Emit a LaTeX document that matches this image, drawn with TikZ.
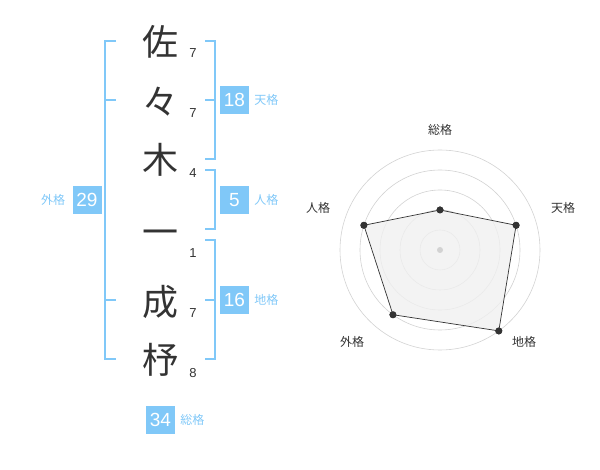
\documentclass[tikz,border=0pt]{standalone}
\usepackage{fontspec}
\setmainfont{Liberation Sans}
\newfontfamily\cjk{Noto Sans CJK JP}
\usepackage{tikz}
\usetikzlibrary{positioning,calc}
\definecolor{kaku}{HTML}{80C8F8}
\definecolor{ink}{HTML}{333333}
\definecolor{ring}{HTML}{D2D2D2}
\definecolor{area}{HTML}{F0F0F0}

\begin{document}
\begin{tikzpicture}[x=1pt,y=-1pt,
  moji/.style={text=ink,inner sep=0pt,font=\cjk\fontsize{36}{36}\selectfont},
  kakusu/.style={text=ink,inner sep=0pt,font=\fontsize{13}{13}\selectfont},
  kakubox/.style={rectangle,fill=kaku,text=white,minimum width=29pt,minimum height=28pt,inner sep=0pt,font=\fontsize{19}{19}\selectfont},
  kakuname/.style={text=kaku,inner sep=0pt,font=\cjk\fontsize{12}{12}\selectfont},
  kakko/.style={draw=kaku,line width=2pt},
  ringline/.style={draw=ring,line width=0.6pt},
  ten/.style={circle,fill=ink,minimum size=7pt,inner sep=0pt},
  axisname/.style={text=ink,inner sep=0pt,font=\cjk\fontsize{12}{12}\selectfont}]
  \useasboundingbox (0,0) rectangle (600,470);

  % name and strokes
  \node[moji] (1) at (160,42) {佐};
  \node[moji] (2) at (160,102) {々};
  \node[moji] (3) at (160,160) {木};
  \node[moji] (4) at (160,238) {一};
  \node[moji] (5) at (160,302) {成};
  \node[moji] (6) at (160,360) {杼};
  \node[kakusu] (7) at (193,53) {7};
  \node[kakusu] (8) at (193,113) {7};
  \node[kakusu] (9) at (193,173) {4};
  \node[kakusu] (10) at (193,253) {1};
  \node[kakusu] (11) at (193,313) {7};
  \node[kakusu] (12) at (193,373) {8};

  % brackets
  \draw[kakko] (116,41) -- (105,41) -- (105,359) -- (116,359);
  \draw[kakko] (105,100) -- (116,100);
  \draw[kakko] (105,300) -- (116,300);
  \draw[kakko] (205,41) -- (215,41) -- (215,159) -- (205,159);
  \draw[kakko] (215,100) -- (205,100);
  \draw[kakko] (205,170) -- (215,170) -- (215,229) -- (205,229);
  \draw[kakko] (205,240) -- (215,240) -- (215,359) -- (205,359);
  \draw[kakko] (215,300) -- (205,300);

  % totals
  \node[kakubox] (13) at (234.5,100) {18};
  \node[kakuname,right=5pt of 13] (14) {天格};
  \node[kakubox] (15) at (234.5,200) {5};
  \node[kakuname,right=5pt of 15] (16) {人格};
  \node[kakubox] (17) at (234.5,300) {16};
  \node[kakuname,right=5pt of 17] (18) {地格};
  \node[kakubox] (19) at (87,200) {29};
  \node[kakuname,left=7pt of 19] (20) {外格};
  \node[kakubox] (21) at (160.5,419.5) {34};
  \node[kakuname,right=5pt of 21] (22) {総格};

  % radar
  \draw[ringline] (440,250) circle (20);
  \draw[ringline] (440,250) circle (40);
  \draw[ringline] (440,250) circle (60);
  \draw[ringline] (440,250) circle (80);
  \draw[ringline] (440,250) circle (100);
  \node[ten] (23) at ($(440,250)+(-90:40)$) {};
  \node[ten] (24) at ($(440,250)+(-18:80)$) {};
  \node[ten] (25) at ($(440,250)+(54:100)$) {};
  \node[ten] (26) at ($(440,250)+(126:80)$) {};
  \node[ten] (27) at ($(440,250)+(-162:80)$) {};
  \fill[area,fill opacity=0.8] (23.center) -- (24.center) -- (25.center) -- (26.center) -- (27.center) -- cycle;
  \draw[ink,line width=0.7pt] (23.center) -- (24.center) -- (25.center) -- (26.center) -- (27.center) -- cycle;
  \foreach \p in {23,24,25,26,27} \node[ten] at (\p) {};
  \node[circle,fill=ring,minimum size=6pt,inner sep=0pt] (28) at (440,250) {};
  \node[axisname] (29) at (440,130) {総格};
  \node[axisname] (30) at (563,208) {天格};
  \node[axisname] (31) at (524,342) {地格};
  \node[axisname] (32) at (352,342) {外格};
  \node[axisname] (33) at (318,208) {人格};
\end{tikzpicture}
\end{document}
